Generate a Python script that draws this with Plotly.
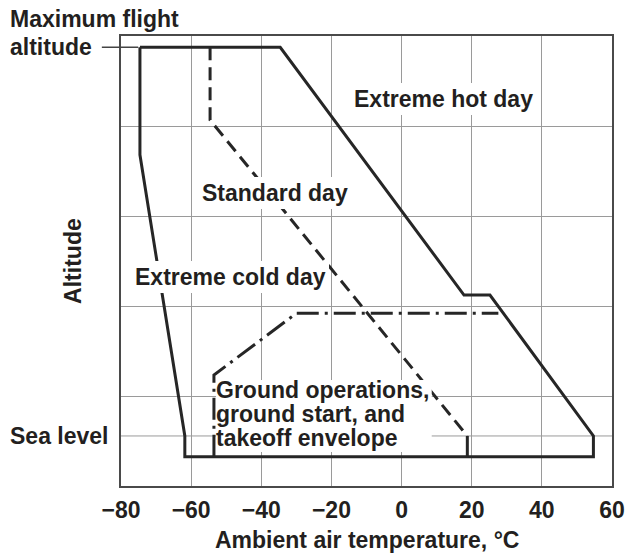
import plotly.graph_objects as go

# Altitude is in arbitrary chart units (0 = bottom of frame, 5 = top of frame)
SEA_LEVEL = 0.556
MAX_ALT = 4.874

# Outer operating envelope: extreme cold day, ground floor, extreme hot day, ceiling
envelope_temp = [-74.6, -74.6, -61.8, -61.8, 54.7, 54.7, 25.2, 17.8, -34.6, -74.6]
envelope_alt = [MAX_ALT, 3.68, SEA_LEVEL, 0.326, 0.326, SEA_LEVEL, 2.122, 2.122, MAX_ALT, MAX_ALT]

# Standard day profile
standard_temp = [-54.6, -54.6, 18.75]
standard_alt = [MAX_ALT, 4.067, SEA_LEVEL]
standard_foot_temp = [18.75, 18.75]
standard_foot_alt = [SEA_LEVEL, 0.326]

# Ground operations / ground start / takeoff envelope boundary
ground_temp = [-53.5, -53.5, -30.0, 27.6]
ground_alt = [0.326, 1.233, 1.919, 1.919]

x_ticks = [-80, -60, -40, -20, 0, 20, 40, 60]

INK = "#262626"
TEXT = "#231f20"
GRID = "#9a9a9a"
FONT = "Liberation Sans"
FS = 23

fig = go.Figure()

fig.add_trace(go.Scatter(x=envelope_temp, y=envelope_alt, mode="lines",
                         line=dict(color=INK, width=3), hoverinfo="skip"))
fig.add_trace(go.Scatter(x=standard_temp, y=standard_alt, mode="lines",
                         line=dict(color=INK, width=3, dash="13px,7px"), hoverinfo="skip"))
fig.add_trace(go.Scatter(x=standard_foot_temp, y=standard_foot_alt, mode="lines",
                         line=dict(color=INK, width=3), hoverinfo="skip"))
fig.add_trace(go.Scatter(x=ground_temp, y=ground_alt, mode="lines",
                         line=dict(color=INK, width=3, dash="22px,6px,3px,6px"), hoverinfo="skip"))

# Sea level reference line across the plot
fig.add_shape(type="line", xref="x domain", yref="y", x0=0, x1=1,
              y0=SEA_LEVEL, y1=SEA_LEVEL, line=dict(color=GRID, width=1), layer="below")
# Leader from the "altitude" label to the ceiling
fig.add_shape(type="line", xref="x domain", yref="y", x0=-0.039, x1=0.035,
              y0=MAX_ALT, y1=MAX_ALT, line=dict(color="#444444", width=1.5))
# White panel behind the three-line ground-operations caption
fig.add_shape(type="rect", xref="x", yref="y", x0=-52.9, x1=8.6, y0=0.378, y1=1.178,
              fillcolor="white", line=dict(width=0), layer="above")

font = dict(family=FONT, size=FS, color=TEXT, weight="bold")
boxed = dict(showarrow=False, font=font, bgcolor="white", borderpad=3, borderwidth=0)
plain = dict(showarrow=False, font=font, borderpad=0, borderwidth=0)

annotations = [
    dict(text="Extreme hot day", x=12.0, y=4.30, xref="x", yref="y", **boxed),
    dict(text="Standard day", x=-36.0, y=3.26, xref="x", yref="y", **boxed),
    dict(text="Extreme cold day", x=-77.0, y=2.32, xref="x", yref="y", xanchor="left", **boxed),
    dict(text="Ground operations,", x=-52.8, y=1.062, xref="x", yref="y", xanchor="left", **plain),
    dict(text="ground start, and", x=-52.8, y=0.800, xref="x", yref="y", xanchor="left", **plain),
    dict(text="takeoff envelope", x=-52.8, y=0.530, xref="x", yref="y", xanchor="left", **plain),
    dict(text="Maximum flight", x=-0.226, y=MAX_ALT, yshift=28, xref="paper", yref="y",
         xanchor="left", **plain),
    dict(text="altitude", x=-0.226, y=MAX_ALT, xref="paper", yref="y",
         xanchor="left", **plain),
    dict(text="Sea level", x=-0.226, y=SEA_LEVEL, xref="paper", yref="y",
         xanchor="left", **plain),
    dict(text="Altitude", x=-0.098, y=0.50, xref="paper", yref="paper", textangle=-90,
         xanchor="center", yanchor="middle", **plain),
    dict(text="Ambient air temperature, °C", x=0.5, y=-0.12, xref="paper", yref="paper",
         xanchor="center", yanchor="middle", **plain),
]

fig.update_layout(
    width=626, height=556,
    margin=dict(l=121, r=14, t=36, b=70, autoexpand=False),
    paper_bgcolor="white", plot_bgcolor="white",
    showlegend=False,
    annotations=annotations,
    xaxis=dict(range=[-80, 60], tickvals=x_ticks, showgrid=True, gridcolor=GRID, gridwidth=1,
               zeroline=False, showline=True, mirror=True, linecolor="#4a4a4a", linewidth=1.5,
               ticks="outside", ticklen=3, tickcolor="rgba(0,0,0,0)", automargin=False,
               tickfont=font, fixedrange=True),
    yaxis=dict(range=[0, 5], dtick=1, showgrid=True, gridcolor=GRID, gridwidth=1,
               zeroline=False, showline=True, mirror=True, linecolor="#4a4a4a", linewidth=1.5,
               showticklabels=False, ticks="", automargin=False, fixedrange=True),
)

fig.write_html("out.html")
